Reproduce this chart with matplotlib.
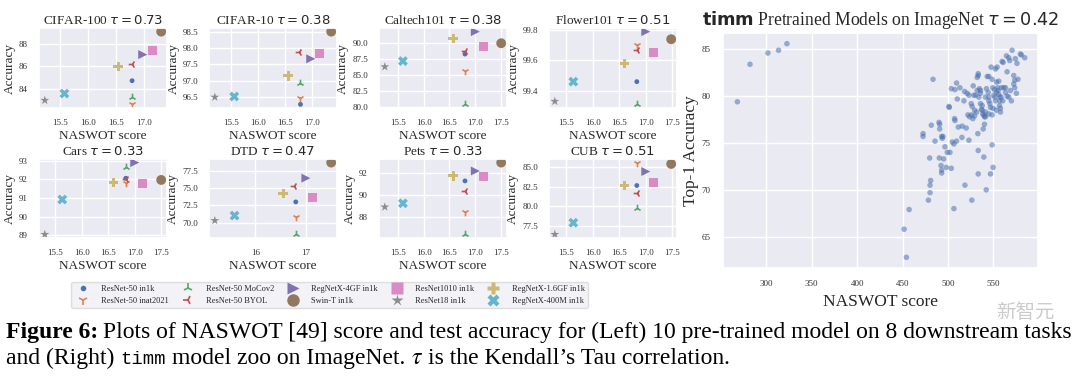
import matplotlib
matplotlib.use('Agg')
import matplotlib.pyplot as plt
import seaborn as sns
from matplotlib.lines import Line2D
from matplotlib.ticker import MultipleLocator

sns.set_theme(style='darkgrid')
plt.rcParams['font.family'] = ['Liberation Serif', 'DejaVu Serif']
plt.rcParams['mathtext.fontset'] = 'dejavusans'
plt.rcParams['axes.formatter.useoffset'] = False

# 10 个预训练模型
models = ['ResNet-50 in1k', 'ResNet-50 inat2021', 'ResNet-50 MoCov2', 'ResNet-50 BYOL',
          'RegNetX-4GF in1k', 'Swin-T in1k', 'ResNet1010 in1k', 'ResNet18 in1k',
          'RegNetX-1.6GF in1k', 'RegNetX-400M in1k']
colors = ['#4C72B0', '#DD8452', '#55A868', '#C44E52', '#8172B3',
          '#937860', '#DA8BC3', '#8C8C8C', '#CCB974', '#64B5CD']
markers = ['o', '1', '2', '3', '>', 'o', 's', '*', 'P', 'X']
sizes = [12, 30, 30, 30, 42, 50, 42, 45, 45, 50]

datasets = ['CIFAR-100', 'CIFAR-10', 'Caltech101', 'Flower101', 'Cars', 'DTD', 'Pets', 'CUB']
taus = [0.73, 0.38, 0.38, 0.51, 0.33, 0.47, 0.33, 0.51]

# NASWOT score 与准确率 (每个数据集)
score_cifar100 = [16.79, 16.79, 16.79, 16.79, 16.98, 17.31, 17.15, 15.23, 16.54, 15.58]
acc_cifar100 = [84.72, 82.62, 83.28, 86.23, 87.04, 89.08, 87.40, 82.98, 86.00, 83.58]
score_cifar10 = [16.79, 16.79, 16.79, 16.77, 16.98, 17.36, 17.14, 15.20, 16.56, 15.56]
acc_cifar10 = [96.28, 96.48, 96.92, 97.87, 97.67, 98.50, 97.83, 96.50, 97.15, 96.52]
score_caltech = [16.80, 16.80, 16.80, 16.80, 17.00, 17.50, 17.15, 15.25, 16.57, 15.60]
acc_caltech = [88.30, 85.63, 80.40, 88.85, 91.82, 90.00, 89.50, 86.30, 90.78, 87.20]
score_flower = [16.83, 16.83, 16.83, 16.83, 17.00, 17.48, 17.15, 15.28, 16.60, 15.63]
acc_flower = [99.46, 99.70, 99.31, 99.67, 99.79, 99.74, 99.65, 99.33, 99.58, 99.46]
score_cars = [16.83, 16.83, 16.83, 16.83, 17.00, 17.50, 17.15, 15.30, 16.60, 15.63]
acc_cars = [92.05, 91.80, 92.68, 92.00, 92.89, 91.96, 91.78, 89.04, 91.84, 90.91]
score_dtd = [16.80, 16.80, 16.80, 16.77, 17.00, 17.50, 17.13, 15.20, 16.55, 15.59]
acc_dtd = [73.00, 70.85, 68.34, 75.24, 76.41, 78.64, 73.70, 70.33, 74.20, 71.04]
score_pets = [16.80, 16.80, 16.80, 16.80, 17.00, 17.50, 17.15, 15.25, 16.57, 15.60]
acc_pets = [91.30, 88.45, 86.40, 90.37, 92.21, 92.98, 91.69, 88.91, 91.76, 89.25]
score_cub = [16.83, 16.83, 16.83, 16.83, 17.00, 17.48, 17.15, 15.28, 16.60, 15.63]
acc_cub = [82.63, 85.50, 79.75, 81.70, 84.38, 85.33, 83.05, 76.50, 82.63, 77.96]

scores = [score_cifar100, score_cifar10, score_caltech, score_flower,
          score_cars, score_dtd, score_pets, score_cub]
accs = [acc_cifar100, acc_cifar10, acc_caltech, acc_flower,
        acc_cars, acc_dtd, acc_pets, acc_cub]

# 刻度
xticks_small = [[15.5, 16.0, 16.5, 17.0], [15.5, 16.0, 16.5, 17.0],
                [15.5, 16.0, 16.5, 17.0, 17.5], [15.5, 16.0, 16.5, 17.0, 17.5],
                [15.5, 16.0, 16.5, 17.0, 17.5], [16, 17],
                [15.5, 16.0, 16.5, 17.0, 17.5], [15.5, 16.0, 16.5, 17.0, 17.5]]
ystep_small = [2, 0.5, 2.5, 0.2, 1, 2.5, 2, 2.5]

# timm 模型 (ImageNet)
timm_score = [268.2, 282.1, 301.8, 313.5, 322.7,
              451.7, 454.2, 457.2, 472.5, 472.5, 478.4, 479.8, 480.2, 480.2, 480.9,
              481.6, 483.5, 485.7, 490.1, 490.8, 490.8, 490.4, 492.3, 493.0, 493.0,
              493.0, 494.4, 493.7, 495.2, 496.6, 498.1, 499.2, 502.1, 503.6, 501.0,
              501.4, 503.6, 504.7, 506.5, 506.5, 507.6, 509.4, 509.4, 507.2, 507.6,
              510.2, 511.3, 513.1, 515.6, 515.3, 517.5, 518.2, 518.6, 520.0, 521.1,
              521.9, 523.0, 523.0, 523.7, 525.5, 525.9, 526.6, 526.2, 527.3, 527.7,
              528.4, 530.3, 529.2, 531.4, 529.2, 532.1, 533.2, 533.2, 532.8, 533.2,
              533.2, 533.9, 532.1, 534.6, 535.7, 535.7, 535.7, 537.6, 537.6, 538.3,
              539.4, 536.8, 538.7, 540.1, 539.4, 541.2, 540.1, 542.0, 543.1, 544.9,
              542.3, 541.2, 544.2, 544.9, 544.9, 546.0, 546.7, 544.9, 548.5, 546.7,
              547.4, 549.3, 550.4, 551.5, 552.2, 549.6, 553.3, 548.5, 549.6, 552.2,
              554.0, 555.1, 555.8, 556.9, 556.9, 556.6, 551.1, 553.3, 554.7, 557.7,
              558.4, 558.8, 559.5, 560.6, 561.3, 563.2, 560.2, 563.2, 565.0, 564.3,
              566.8, 568.6, 569.7, 570.5, 567.9, 572.3, 573.4, 573.4, 575.2, 577.0,
              575.9, 579.6, 580.7, 584.4, 574.1, 572.3, 565.0, 566.8, 557.7, 553.3,
              555.8, 548.5, 541.2]
timm_acc = [79.4, 83.4, 84.6, 84.9, 85.6,
            65.8, 62.8, 67.9, 76.0, 75.7, 68.9, 73.4, 70.5, 69.7, 71.0,
            76.9, 81.8, 75.2, 77.2, 77.0, 76.5, 73.4, 72.6, 72.1, 71.8,
            75.7, 75.7, 75.5, 73.3, 74.6, 72.4, 74.0, 74.0, 72.3, 78.9,
            78.8, 80.8, 75.1, 74.9, 68.0, 80.7, 81.4, 75.2, 77.6, 77.4,
            79.7, 76.7, 80.9, 76.8, 75.6, 79.5, 80.5, 70.5, 76.6, 80.3,
            78.0, 80.1, 75.3, 77.8, 79.2, 78.0, 78.9, 68.9, 77.6, 81.1,
            80.1, 80.1, 78.5, 78.3, 77.9, 82.0, 82.2, 82.4, 76.0, 74.2,
            71.7, 79.9, 80.6, 80.8, 80.6, 80.3, 79.2, 79.0, 78.5, 78.1,
            78.0, 78.6, 76.5, 77.0, 73.5, 78.3, 77.8, 70.0, 82.1, 82.1,
            80.8, 79.9, 80.4, 79.9, 79.5, 79.2, 78.8, 78.1, 78.0, 71.7,
            83.1, 80.9, 80.1, 79.9, 79.5, 78.7, 78.5, 74.8, 72.4, 82.9,
            83.1, 80.6, 80.2, 79.9, 79.5, 79.0, 80.7, 80.4, 80.9, 78.3,
            79.9, 80.9, 83.7, 83.6, 80.9, 80.9, 79.5, 80.4, 82.6, 84.3,
            84.1, 80.6, 79.5, 84.9, 83.8, 81.3, 80.9, 81.7, 80.3, 81.8,
            83.5, 84.5, 84.4, 84.1, 84.0, 82.2, 80.0, 79.9, 78.7, 81.5,
            81.6, 81.8, 77.8]

W, H = 1080, 376
fig = plt.figure(figsize=(W / 100, H / 100), dpi=100)


def add_ax(l, t, r, b):
    return fig.add_axes([l / W, 1 - b / H, (r - l) / W, (b - t) / H])


lefts = [39, 209, 379, 549]
rows = [(28, 108), (159, 238)]
for i, name in enumerate(datasets):
    top, bot = rows[i // 4]
    l = lefts[i % 4]
    ax = add_ax(l, top, l + 128, bot)
    for k in range(len(models)):
        if markers[k] in ('1', '2', '3'):
            ax.scatter(scores[i][k], accs[i][k], s=sizes[k], marker=markers[k],
                       color=colors[k], linewidths=1.2)
        else:
            ax.scatter(scores[i][k], accs[i][k], s=sizes[k], marker=markers[k],
                       color=colors[k], edgecolors='none')
    ax.set_xticks(xticks_small[i])
    ax.yaxis.set_major_locator(MultipleLocator(ystep_small[i]))
    ax.tick_params(labelsize=6.5, pad=2, colors='#333333')
    ax.set_title(name + r' $\tau = %.2f$' % taus[i], fontsize=9.5, pad=3)
    ax.set_xlabel('NASWOT score', fontsize=9.5, labelpad=2)
    ax.set_ylabel('Accuracy', fontsize=9.5, labelpad=2)

# 图例
handle_ms = [4, 7, 7, 7, 9, 9, 9, 9, 9, 9]
handles = []
for k in range(len(models)):
    if markers[k] in ('1', '2', '3'):
        h = Line2D([], [], linestyle='none', marker=markers[k], color=colors[k],
                   markersize=handle_ms[k], markeredgewidth=1.2)
    else:
        h = Line2D([], [], linestyle='none', marker=markers[k], color=colors[k],
                   markersize=handle_ms[k], markeredgecolor='none')
    handles.append(h)
fig.legend(handles, models, ncol=5, loc='lower left', mode='expand',
           bbox_to_anchor=(71 / W, 1 - 308 / H, 517 / W, 28 / H),
           fontsize=6, frameon=True, facecolor='#EAEAF2', framealpha=0.6,
           edgecolor='#cccccc', borderpad=0.4, labelspacing=0.4,
           handletextpad=1.2, borderaxespad=0)

# 右图
ax = add_ax(723, 33, 1038, 268)
ax.scatter(timm_score, timm_acc, s=16, color='#4C72B0', alpha=0.55, edgecolors='none')
ax.set_xlim(right=599)
ax.xaxis.set_major_locator(MultipleLocator(50))
ax.yaxis.set_major_locator(MultipleLocator(5))
ax.tick_params(labelsize=6.5, pad=3, colors='#333333')
ax.set_title(r'$\mathbf{timm}$ Pretrained Models on ImageNet $\tau = 0.42$',
             fontsize=12.7, pad=6)
ax.set_xlabel('NASWOT score', fontsize=12.5, labelpad=4)
ax.set_ylabel('Top-1 Accuracy', fontsize=12.5, labelpad=2)

# 图注
renderer = fig.canvas.get_renderer()


def text_row(pieces, x, y, size):
    for s, kw, gap in pieces:
        fs = size * kw.pop('scale', 1.0)
        t = fig.text(x / W, 1 - y / H, s, fontsize=fs, va='baseline', color='black', **kw)
        x += t.get_window_extent(renderer).width + gap


text_row([('Figure 6:', {'weight': 'bold'}, 5),
          ('Plots of NASWOT [49] score and test accuracy for (Left) 10 pre-trained '
           'model on 8 downstream tasks', {}, 0)], 6, 338, 17)
text_row([('and (Right)', {}, 6),
          ('timm', {'family': 'Liberation Mono', 'scale': 0.8}, 6),
          ('model zoo on ImageNet.', {}, 6),
          (r'$\tau$', {'math_fontfamily': 'stix'}, 5),
          ('is the Kendall\u2019s Tau correlation.', {}, 0)], 6, 364, 17)

# 水印
fig.text(1025 / W, 1 - 318 / H, '新智元', fontsize=14, family='Noto Sans CJK SC',
         color='#999999', alpha=0.5, ha='center', va='baseline')

fig.savefig('out.png', dpi=100)
